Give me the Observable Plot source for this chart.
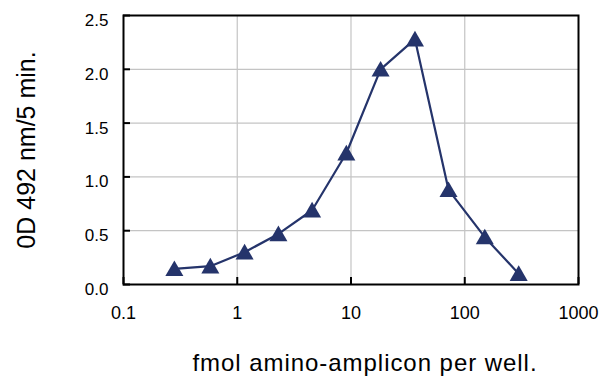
<!DOCTYPE html>
<html><head><meta charset="utf-8">
<script src="https://cdn.jsdelivr.net/npm/d3@7"></script>
<script src="https://cdn.jsdelivr.net/npm/@observablehq/plot@0.6"></script>
<style>
body{margin:0;background:#fff} svg{display:block}
</style>
</head><body><div id="chart"></div>
<script>
const amount = [0.28, 0.58, 1.16, 2.3, 4.55, 9.1, 18.2, 36.5, 72, 150, 298];
const od = [0.145, 0.17, 0.30, 0.47, 0.69, 1.22, 2.0, 2.28, 0.88, 0.44, 0.10];
const xTicks = [0.1, 1, 10, 100, 1000];
const xTickLabels = ["0.1", "1", "10", "100", "1000"];
const yTicks = [0, 0.5, 1.0, 1.5, 2.0, 2.5];
const yTickLabels = ["0.0", "0.5", "1.0", "1.5", "2.0", "2.5"];
const xTitle = "fmol amino-amplicon per well.";
const yTitle = "0D 492 nm/5 min.";

const data = amount.map((x, i) => ({x, y: od[i]}));
const navy = "#25346b";
const font = "'Liberation Sans', Arial, Helvetica, sans-serif";

const chart = Plot.plot({
  width: 615, height: 381,
  marginLeft: 123, marginRight: 37, marginTop: 15, marginBottom: 97,
  style: {fontFamily: font, background: "#fff", color: "#000"},
  x: {type: "log", domain: [0.1, 1000]},
  y: {domain: [0, 2.5]},
  marks: [
    Plot.gridX(xTicks.slice(1, -1), {stroke: "#c4c4c4", strokeOpacity: 1, strokeWidth: 1.2}),
    Plot.gridY(yTicks.slice(1, -1), {stroke: "#c4c4c4", strokeOpacity: 1, strokeWidth: 1.2}),
    Plot.axisX(xTicks, {tickSize: -7, strokeWidth: 2, fill: "none", label: null}),
    Plot.axisY(yTicks, {tickSize: -7, strokeWidth: 2, fill: "none", label: null}),
    Plot.axisX(xTicks, {tickSize: 0, tickPadding: 22, fontSize: 18, label: null,
      tickFormat: d => xTickLabels[xTicks.indexOf(d)]}),
    Plot.axisY(yTicks, {tickSize: 0, tickPadding: 15, dy: 5, fontSize: 17, label: null,
      tickFormat: d => yTickLabels[yTicks.indexOf(d)]}),
    Plot.frame({stroke: "#000", strokeWidth: 2}),
    Plot.line(data, {x: "x", y: "y", stroke: navy, strokeWidth: 2.2}),
    Plot.dot(data, {x: "x", y: "y", symbol: "triangle", r: 6.7, fill: navy, stroke: "none", dy: 2}),
    Plot.text([xTitle], {frameAnchor: "bottom", textAnchor: "middle", dx: 14, dy: 79, fontSize: 24,
      lineAnchor: "middle", text: d => d, fill: "#000"}),
    Plot.text([yTitle], {frameAnchor: "left", textAnchor: "middle", dx: -97, rotate: -90, fontSize: 25,
      lineAnchor: "middle", text: d => d, fill: "#000"})
  ]
});
d3.select(chart).selectAll("text")
  .filter(function() { return this.textContent === xTitle; })
  .style("letter-spacing", "0.95px");
document.getElementById("chart").append(chart);
</script>
</body></html>
